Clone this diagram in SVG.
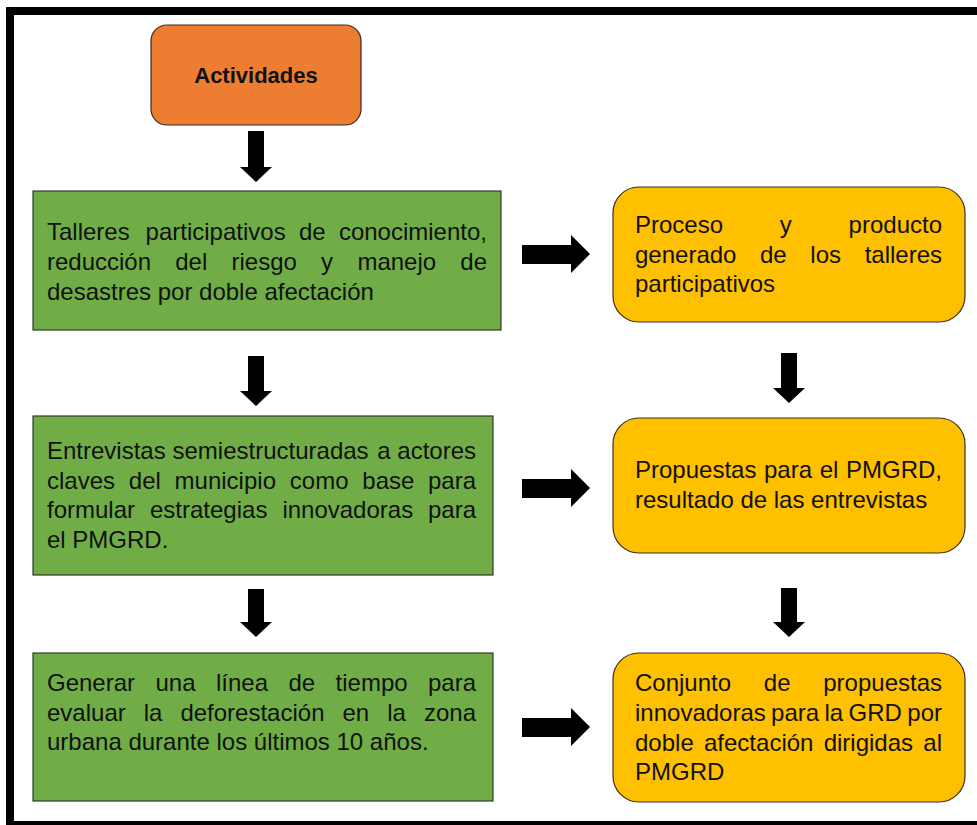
<svg xmlns="http://www.w3.org/2000/svg" width="977" height="825" viewBox="0 0 977 825">
<style>
.t{font-family:"Liberation Sans",Arial,sans-serif;font-size:24px;fill:#111}
.b{font-weight:bold;font-size:22px;text-anchor:middle}
.e{text-anchor:end}
.g{fill:#70AD47;stroke:#2F3A2A;stroke-width:1.2}
.y{fill:#FFC000;stroke:#3A3220;stroke-width:1.2}
.o{fill:#ED7D31;stroke:#3A2A20;stroke-width:1.2}
.a{fill:#000}
</style>
<rect x="0" y="0" width="977" height="825" fill="#fff"/>
<rect x="10" y="11" width="980" height="814" fill="#fff" stroke="#000" stroke-width="8"/>

<g id="actividades">
<rect class="o" x="151" y="25" width="210" height="100" rx="16"/>
<text class="t b" x="256" y="83">Actividades</text>
</g>

<g id="talleres">
<rect class="g" x="33" y="191" width="468" height="139"/>
<text class="t" y="240"><tspan x="47">Talleres</tspan><tspan x="145.6">participativos</tspan><tspan x="299">de</tspan><tspan x="487" class="e">conocimiento,</tspan></text>
<text class="t" y="270"><tspan x="47">reducción</tspan><tspan x="175.2">del</tspan><tspan x="231.5">riesgo</tspan><tspan x="321.1">y</tspan><tspan x="357.4">manejo</tspan><tspan x="487" class="e">de</tspan></text>
<text class="t" x="47" y="300">desastres por doble afectación</text>
</g>

<g id="entrevistas">
<rect class="g" x="33" y="416" width="460" height="159"/>
<text class="t" y="459"><tspan x="47">Entrevistas</tspan><tspan x="172.5">semiestructuradas</tspan><tspan x="377.3">a</tspan><tspan x="476" class="e">actores</tspan></text>
<text class="t" y="489"><tspan x="47">claves</tspan><tspan x="128.8">del</tspan><tspan x="174.6">municipio</tspan><tspan x="289.8">como</tspan><tspan x="362.3">base</tspan><tspan x="476" class="e">para</tspan></text>
<text class="t" y="518"><tspan x="47">formular</tspan><tspan x="150">estrategias</tspan><tspan x="282.4">innovadoras</tspan><tspan x="476" class="e">para</tspan></text>
<text class="t" x="47" y="548">el PMGRD.</text>
</g>

<g id="linea">
<rect class="g" x="33" y="653" width="460" height="148"/>
<text class="t" y="691"><tspan x="47">Generar</tspan><tspan x="155.5">una</tspan><tspan x="216">línea</tspan><tspan x="288.4">de</tspan><tspan x="335.6">tiempo</tspan><tspan x="476" class="e">para</tspan></text>
<text class="t" y="721"><tspan x="47">evaluar</tspan><tspan x="143.7">la</tspan><tspan x="180.4">deforestación</tspan><tspan x="342.5">en</tspan><tspan x="387.2">la</tspan><tspan x="476" class="e">zona</tspan></text>
<text class="t" x="47" y="750">urbana durante los últimos 10 años.</text>
</g>

<g id="proceso">
<rect class="y" x="613" y="187" width="352" height="135" rx="26"/>
<text class="t" y="233"><tspan x="635">Proceso</tspan><tspan x="779.8">y</tspan><tspan x="942" class="e">producto</tspan></text>
<text class="t" y="263"><tspan x="635">generado</tspan><tspan x="760">de</tspan><tspan x="810.3">los</tspan><tspan x="942" class="e">talleres</tspan></text>
<text class="t" x="635" y="292">participativos</text>
</g>

<g id="propuestas">
<rect class="y" x="613" y="418" width="352" height="135" rx="26"/>
<text class="t" y="478"><tspan x="635">Propuestas</tspan><tspan x="764">para</tspan><tspan x="819.7">el</tspan><tspan x="942" class="e">PMGRD,</tspan></text>
<text class="t" x="635" y="508">resultado de las entrevistas</text>
</g>

<g id="conjunto">
<rect class="y" x="613" y="653" width="352" height="149" rx="26"/>
<text class="t" y="691"><tspan x="635">Conjunto</tspan><tspan x="763.8">de</tspan><tspan x="942" class="e">propuestas</tspan></text>
<text class="t" y="721"><tspan x="635">innovadoras</tspan><tspan x="771.1">para</tspan><tspan x="824.5">la</tspan><tspan x="848.6">GRD</tspan><tspan x="942" class="e">por</tspan></text>
<text class="t" y="751"><tspan x="635">doble</tspan><tspan x="704">afectación</tspan><tspan x="823.7">dirigidas</tspan><tspan x="942" class="e">al</tspan></text>
<text class="t" x="635" y="780">PMGRD</text>
</g>

<g id="connectors">
<polygon class="a" points="248,131 264,131 264,167 272,167 256,182 240,167 248,167"/>
<polygon class="a" points="248,356 264,356 264,391 272,391 256,406 240,391 248,391"/>
<polygon class="a" points="248,589 264,589 264,622 272,622 256,637 240,622 248,622"/>
<polygon class="a" points="781,353 797,353 797,388 805,388 789,403 773,388 781,388"/>
<polygon class="a" points="781,588 797,588 797,622 805,622 789,637 773,622 781,622"/>
<polygon class="a" points="522,245 571,245 571,235 590,254 571,273 571,264 522,264"/>
<polygon class="a" points="522,479 571,479 571,469 590,488 571,507 571,498 522,498"/>
<polygon class="a" points="522,718 571,718 571,708 590,727 571,746 571,737 522,737"/>
</g>
</svg>
